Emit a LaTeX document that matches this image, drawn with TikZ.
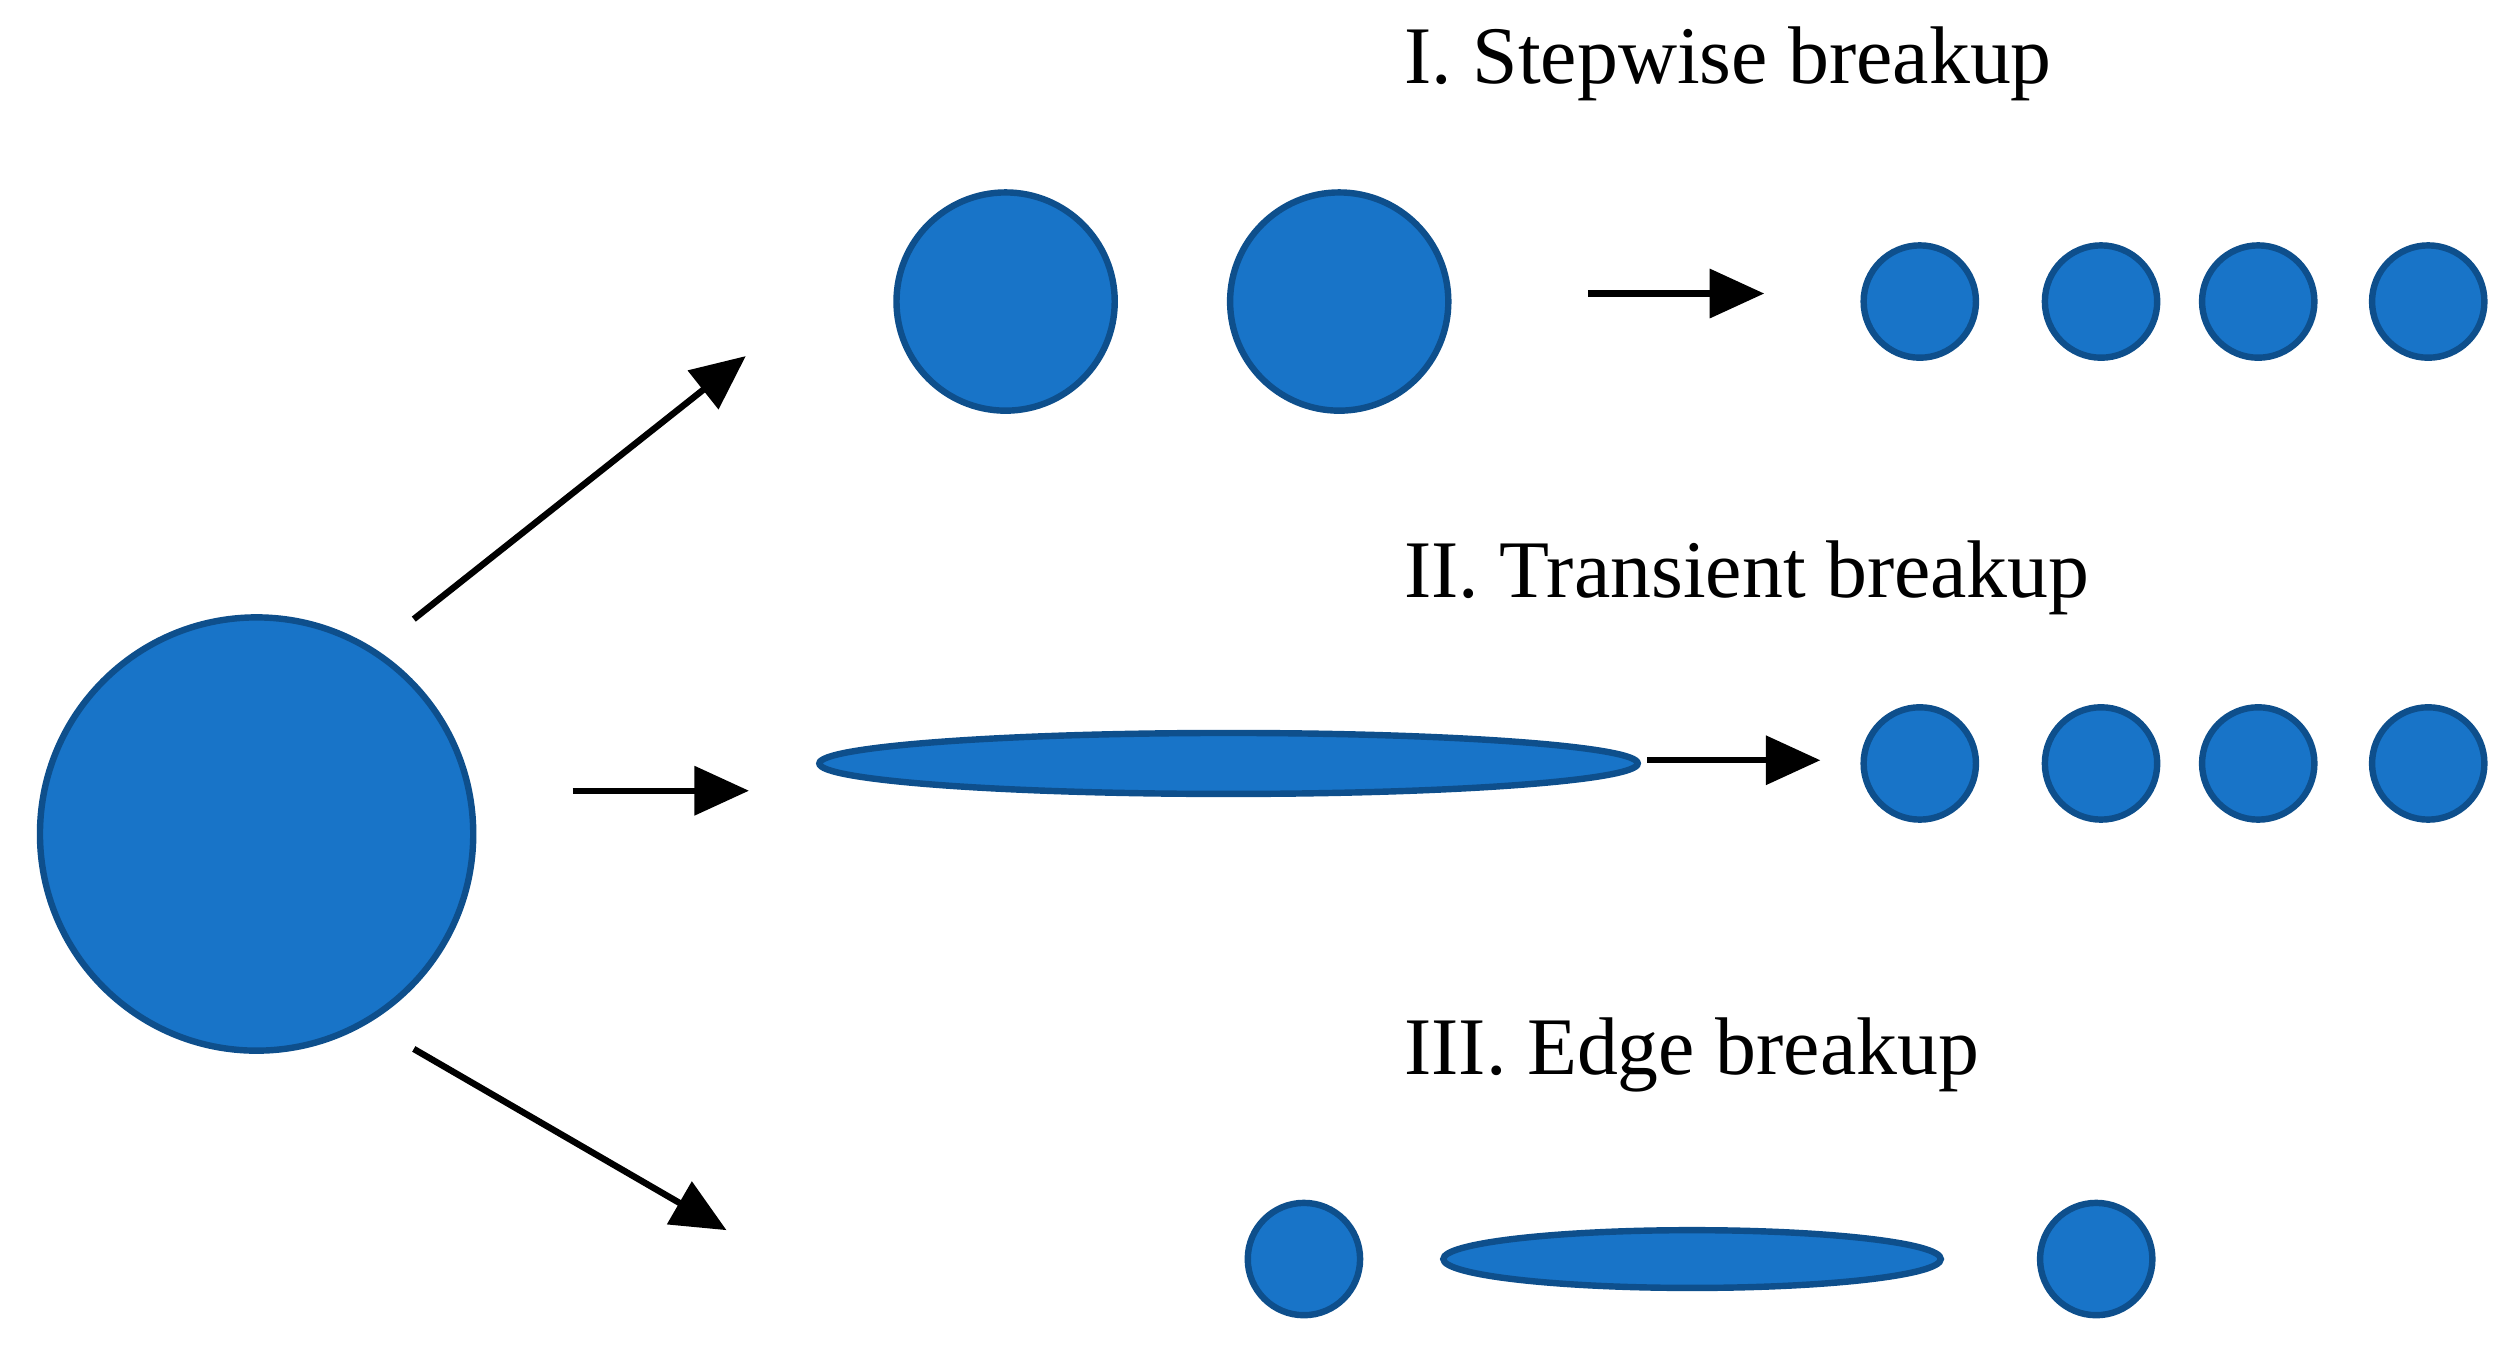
\documentclass[tikz,border=0pt]{standalone}
\usepackage{fontspec}
\setmainfont{Liberation Serif}
\usetikzlibrary{shapes.geometric,arrows.meta}
\definecolor{dropfill}{HTML}{1874C8}
\definecolor{dropline}{HTML}{0E4F8C}
\begin{document}
\begin{tikzpicture}[x=0.01cm,y=-0.01cm,
  drop/.style={circle,fill=dropfill,draw=dropline,line width=0.04cm,inner sep=0pt,minimum size=#1},
  flat/.style={ellipse,fill=dropfill,draw=dropline,line width=0.04cm,inner sep=0pt},
  arr/.style={line width=0.04cm,-{Triangle[length=0.34cm,width=0.3cm]}},
  lab/.style={anchor=west,font=\fontsize{14.5pt}{16pt}\selectfont,inner sep=0pt}]
\useasboundingbox (0,0) rectangle (1560,838);
\node[drop=2.7cm] (big) at (160,520) {};
% arrows
\coordinate (a1s) at (258,386); \coordinate (a1e) at (465,222);
\coordinate (a2s) at (357,493); \coordinate (a2e) at (467,493);
\coordinate (a3s) at (258,654); \coordinate (a3e) at (453,767);
\draw[arr] (a1s) -- (a1e);
\draw[arr] (a2s) -- (a2e);
\draw[arr] (a3s) -- (a3e);
% I
\node[lab] (t1) at (875,40) {I. Stepwise breakup};
\node[drop=1.36cm] (m1) at (627,188) {};
\node[drop=1.36cm] (m2) at (835,188) {};
\coordinate (b1s) at (990,183); \coordinate (b1e) at (1100,183);
\draw[arr] (b1s) -- (b1e);
\foreach \x [count=\i] in {1197,1310,1408,1514} \node[drop=0.7cm] (s1\i) at (\x,188) {};
% II
\node[lab] (t2) at (875,360) {II. Transient breakup};
\node[flat,minimum width=5.1cm,minimum height=0.38cm] (e2) at (766,476) {};
\coordinate (b2s) at (1027,474); \coordinate (b2e) at (1135,474);
\draw[arr] (b2s) -- (b2e);
\foreach \x [count=\i] in {1197,1310,1408,1514} \node[drop=0.7cm] (s2\i) at (\x,476) {};
% III
\node[lab] (t3) at (875,658) {III. Edge breakup};
\node[drop=0.7cm] (l3) at (813,785) {};
\node[flat,minimum width=3.1cm,minimum height=0.36cm] (e3) at (1055,785) {};
\node[drop=0.7cm] (r3) at (1307,785) {};
\end{tikzpicture}
\end{document}
